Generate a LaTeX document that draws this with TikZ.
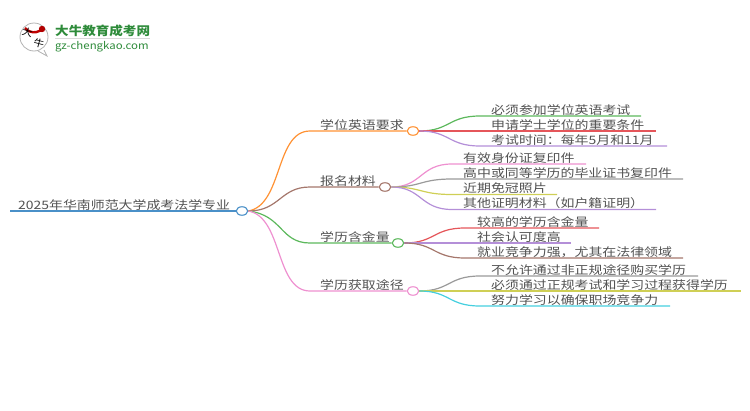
\documentclass[tikz,border=0pt]{standalone}
\usepackage{fontspec}
\usetikzlibrary{shapes.geometric}
\newfontfamily\cjk[FakeStretch=1.2]{Noto Sans CJK SC}
\newfontfamily\logofont[FakeStretch=1.12]{Noto Sans CJK SC}
\definecolor{cblue}{HTML}{4A90C8}
\definecolor{corange}{HTML}{FF9234}
\definecolor{cbrown}{HTML}{A5776C}
\definecolor{cgreen}{HTML}{5CB85C}
\definecolor{cpink}{HTML}{EE90D0}
\definecolor{cred}{HTML}{E5565A}
\definecolor{cpurple}{HTML}{B48FD8}
\definecolor{cgray}{HTML}{9A9A9A}
\definecolor{colive}{HTML}{CFCF55}
\definecolor{ccyan}{HTML}{45CFDF}
\definecolor{clogo}{HTML}{2E8B3A}

\begin{document}
\begin{tikzpicture}[x=1pt,y=-1pt]

\tikzset{hub/.style = {shape=ellipse,draw,line width=1.1pt,fill=white,inner sep=0pt,minimum width=11.5pt,minimum height=8.5pt}}
\tikzset{txt/.style = {anchor=base west,inner sep=0pt,text=black!68,font=\cjk\fontsize{11.6}{12}\selectfont}}
\tikzset{edge/.style = {line width=1.2pt}}
\useasboundingbox (0,0) rectangle (750,410);
%logo
\draw[black!30, line width=0.8pt, fill=white] (44,50) -- (47,56) -- (38,51);
\draw[black!30, line width=0.8pt] (34,37) circle (14);
\draw[red!75!black, line width=2.4pt] (25,28) arc (140:40:12);
\fill[red!70!black] (42,29) circle (3.2);
\node[rotate=-15, inner sep=0pt, font=\logofont\fontsize{9.5}{10}\selectfont] (da) at (27.5,32.5) {大};
\node[rotate=-15, inner sep=0pt, font=\logofont\fontsize{9.5}{10}\selectfont] (niu) at (39,43) {牛};
\node[anchor=base west, inner sep=0pt, text=clogo, font=\logofont\bfseries\fontsize{12.1}{13}\selectfont] (name) at (55,35) {大牛教育成考网};
\draw[black!15] (55,38.5) -- (150,38.5);
\node[anchor=base west, inner sep=0pt, text=clogo, font=\logofont\fontsize{10.2}{11}\selectfont] (site) at (55,49) {gz-chengkao.com};
%end points of the lines
\coordinate (r0) at (10,211);
\coordinate (e1) at (310,131);
\coordinate (e2) at (310,187);
\coordinate (e3) at (310,243);
\coordinate (e4) at (310,291);
\coordinate (a1s) at (480,116);
\coordinate (a1e) at (641,116);
\coordinate (a2s) at (480,131);
\coordinate (a2e) at (656,131);
\coordinate (a3s) at (480,146);
\coordinate (a3e) at (667,146);
\coordinate (b1s) at (452,164);
\coordinate (b1e) at (586,164);
\coordinate (b2s) at (452,179);
\coordinate (b2e) at (683,179);
\coordinate (b3s) at (452,194.5);
\coordinate (b3e) at (557,194.5);
\coordinate (b4s) at (452,209.5);
\coordinate (b4e) at (656,209.5);
\coordinate (c1s) at (465,228);
\coordinate (c1e) at (599,228);
\coordinate (c2s) at (465,243);
\coordinate (c2e) at (571,243);
\coordinate (c3s) at (465,258);
\coordinate (c3e) at (683,258);
\coordinate (d1s) at (480,276);
\coordinate (d1e) at (698,276);
\coordinate (d2s) at (480,291);
\coordinate (d2e) at (741,291);
\coordinate (d3s) at (480,306);
\coordinate (d3e) at (670,306);
%circles
\node[hub, draw=cblue] (root) at (242,211) {};
\node[hub, draw=corange] (xw) at (413,131) {};
\node[hub, draw=cbrown] (bm) at (385,187) {};
\node[hub, draw=cgreen] (xl) at (398,243) {};
\node[hub, draw=cpink] (tj) at (413,291) {};
%edges
\draw[edge, cblue] (r0) -- (root);
\draw[edge, corange] (root.east) .. controls (283,205) and (275,131) .. (e1) -- (xw);
\draw[edge, cbrown] (root.east) .. controls (280,211) and (280,187) .. (e2) -- (bm);
\draw[edge, cgreen] (root.east) .. controls (283,215) and (280,243) .. (e3) -- (xl);
\draw[edge, cpink] (root.east) .. controls (283,217) and (275,291) .. (e4) -- (tj);
\draw[edge, cgreen] (xw.east) .. controls (450,131) and (448,116) .. (a1s) -- (a1e);
\draw[edge, cred] (xw.east) -- (a2s) -- (a2e);
\draw[edge, cpurple] (xw.east) .. controls (450,131) and (448,146) .. (a3s) -- (a3e);
\draw[edge, cpink] (bm.east) .. controls (422,187) and (420,164) .. (b1s) -- (b1e);
\draw[edge, cgray] (bm.east) .. controls (422,187) and (420,179) .. (b2s) -- (b2e);
\draw[edge, colive] (bm.east) .. controls (422,187) and (420,194.5) .. (b3s) -- (b3e);
\draw[edge, cpurple] (bm.east) .. controls (422,187) and (420,209.5) .. (b4s) -- (b4e);
\draw[edge, cred] (xl.east) .. controls (435,243) and (433,228) .. (c1s) -- (c1e);
\draw[edge, cpurple] (xl.east) -- (c2s) -- (c2e);
\draw[edge, cbrown] (xl.east) .. controls (435,243) and (433,258) .. (c3s) -- (c3e);
\draw[edge, cgray] (tj.east) .. controls (450,291) and (448,276) .. (d1s) -- (d1e);
\draw[edge, colive] (tj.east) -- (d2s) -- (d2e);
\draw[edge, ccyan] (tj.east) .. controls (450,291) and (448,306) .. (d3s) -- (d3e);
%texts
\node[txt] (t0) at (18,209) {2025年华南师范大学成考法学专业};
\node[txt] (t1) at (320,129) {学位英语要求};
\node[txt] (t2) at (320,185) {报名材料};
\node[txt] (t3) at (320,241) {学历含金量};
\node[txt] (t4) at (320,289) {学历获取途径};
\node[txt] (a1) at (491,114) {必须参加学位英语考试};
\node[txt] (a2) at (491,129) {申请学士学位的重要条件};
\node[txt] (a3) at (491,144) {考试时间：每年5月和11月};
\node[txt] (b1) at (463,162) {有效身份证复印件};
\node[txt] (b2) at (463,177) {高中或同等学历的毕业证书复印件};
\node[txt] (b3) at (463,192.5) {近期免冠照片};
\node[txt] (b4) at (463,207.5) {其他证明材料（如户籍证明）};
\node[txt] (c1) at (477,226) {较高的学历含金量};
\node[txt] (c2) at (477,241) {社会认可度高};
\node[txt] (c3) at (477,256) {就业竞争力强，尤其在法律领域};
\node[txt] (d1) at (491,274) {不允许通过非正规途径购买学历};
\node[txt] (d2) at (491,289) {必须通过正规考试和学习过程获得学历};
\node[txt] (d3) at (491,304) {努力学习以确保职场竞争力};

\end{tikzpicture}
\end{document}
